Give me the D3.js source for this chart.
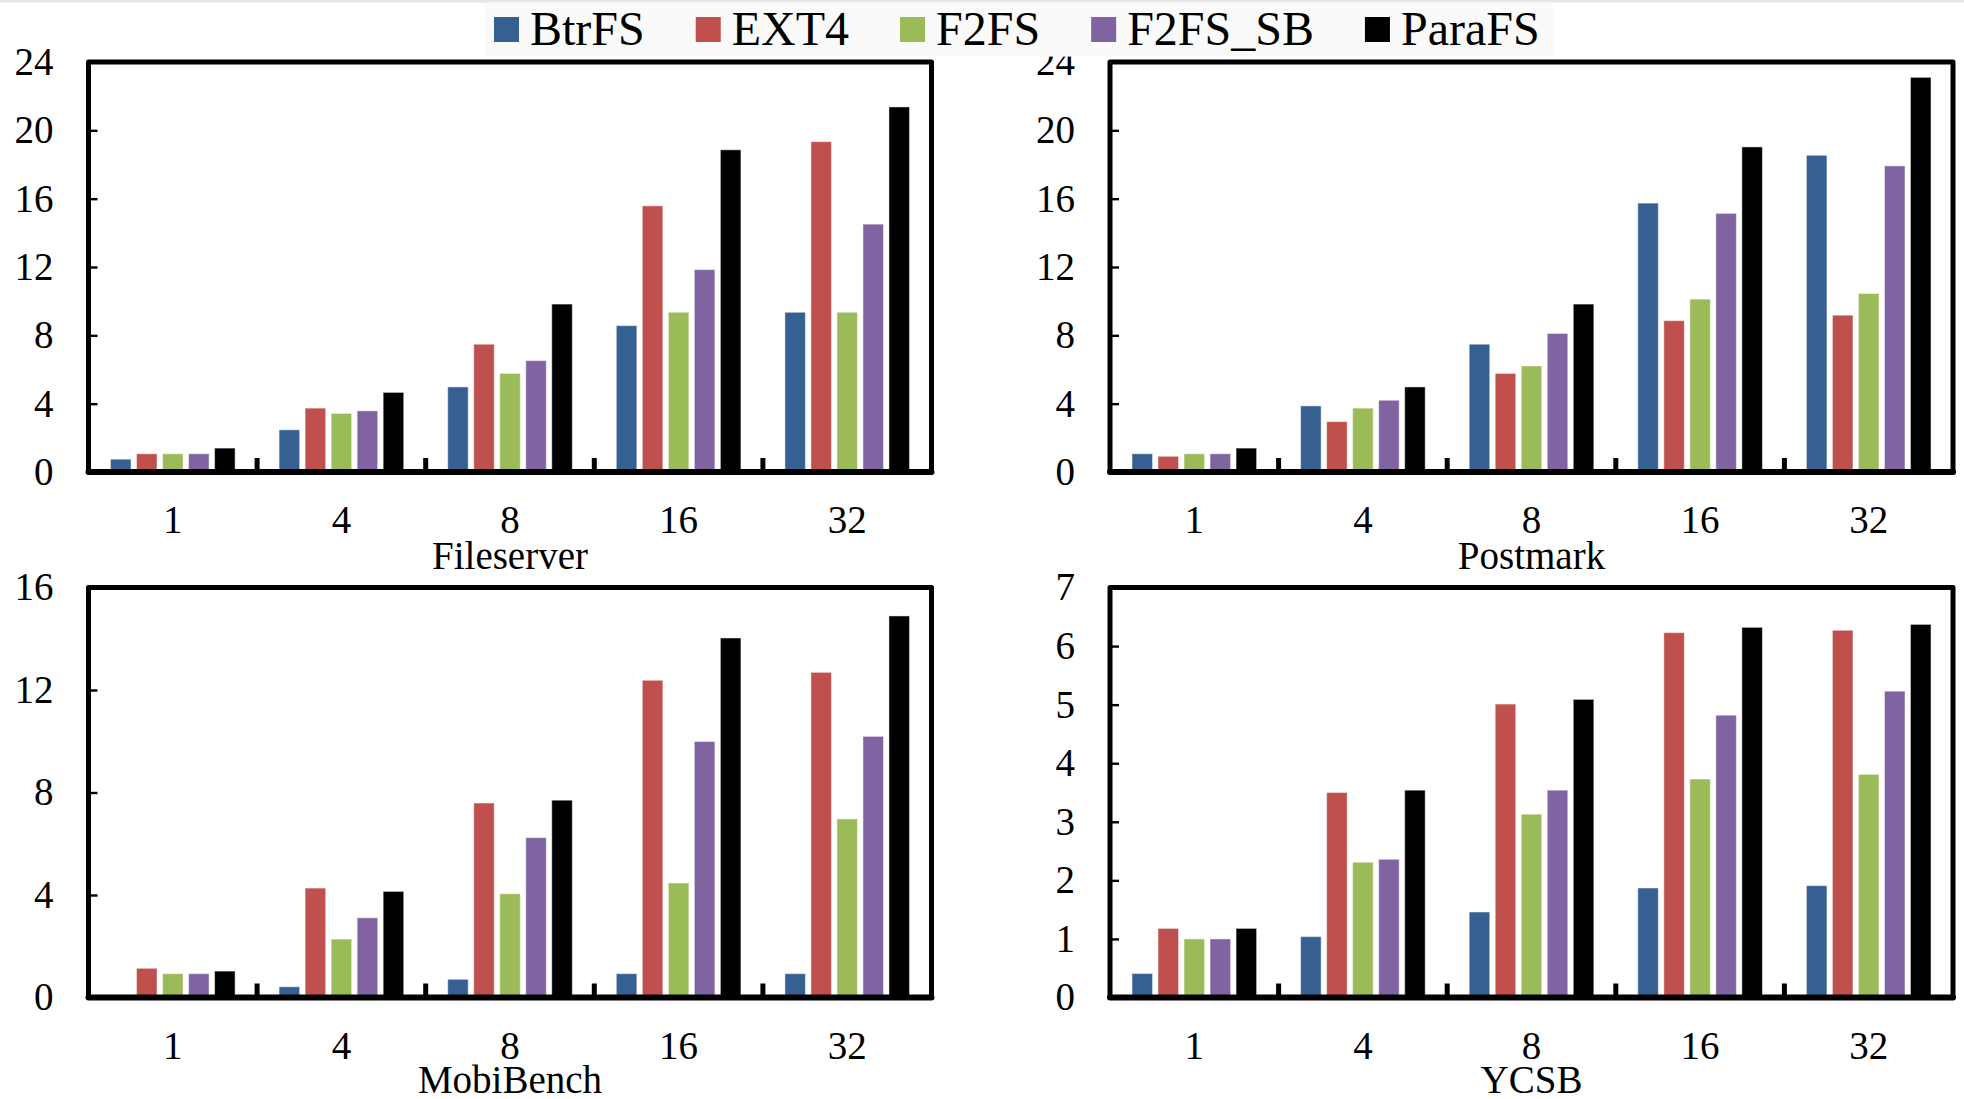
<!DOCTYPE html>
<html>
<head>
<meta charset="utf-8">
<script src="https://cdn.jsdelivr.net/npm/d3@7"></script>
<style>
  html, body { margin: 0; padding: 0; background: #ffffff; }
  svg { display: block; }
  text { font-family: "Liberation Serif", "Times New Roman", Times, serif; fill: #000; }
</style>
</head>
<body>
<svg id="chart" width="1964" height="1099"></svg>
<script>
// Thread counts on the x axis, file systems as series
const threads = ["1", "4", "8", "16", "32"];
const systems = ["BtrFS", "EXT4", "F2FS", "F2FS_SB", "ParaFS"];
const colors  = ["#376092", "#C0504D", "#9BBB59", "#8064A2", "#000000"];

// Normalized throughput, one row per file system (same order as `systems`)
const fileserver = [
  [0.75, 2.47, 4.98, 8.57, 9.35],
  [1.07, 3.74, 7.48, 15.58, 19.34],
  [1.07, 3.43, 5.77, 9.35, 9.35],
  [1.07, 3.58, 6.52, 11.85, 14.51],
  [1.40, 4.66, 9.83, 18.86, 21.37]
];
const postmark = [
  [1.07, 3.87, 7.48, 15.74, 18.54],
  [0.92, 2.95, 5.77, 8.86, 9.18],
  [1.07, 3.74, 6.21, 10.12, 10.45],
  [1.07, 4.20, 8.11, 15.14, 17.92],
  [1.40, 4.98, 9.83, 19.03, 23.10]
];
const mobibench = [
  [0, 0.42, 0.71, 0.93, 0.93],
  [1.14, 4.27, 7.59, 12.38, 12.69],
  [0.93, 2.28, 4.05, 4.47, 6.97],
  [0.93, 3.11, 6.24, 9.99, 10.19],
  [1.03, 4.14, 7.70, 14.03, 14.89]
];
const ycsb = [
  [0.41, 1.04, 1.46, 1.87, 1.91],
  [1.18, 3.50, 5.01, 6.23, 6.27],
  [1.00, 2.31, 3.13, 3.73, 3.81],
  [1.00, 2.36, 3.54, 4.82, 5.23],
  [1.18, 3.54, 5.09, 6.32, 6.37]
];

// Benchmarks, their y-axis maxima and tick steps
const benchmarks = ["Fileserver", "Postmark", "MobiBench", "YCSB"];
const benchData  = [fileserver, postmark, mobibench, ycsb];
const yMax       = [24, 24, 16, 7];
const yStep      = [4, 4, 4, 1];

const serif = '"Liberation Serif", "Times New Roman", Times, serif';
const svg = d3.select("#chart");

// thin grey strip along the top edge
svg.append("rect").attr("x", 0).attr("y", 0).attr("width", 1964).attr("height", 2.6)
  .attr("fill", "#e6e6e6");

// panel grid
const colLeft = [88.5, 1110];
const rowTop  = [62, 587.5];
const plotW = 843, plotH = 410;
const titleOffset = [96.5, 95];

benchmarks.forEach((name, i) => {
  const row = Math.floor(i / 2);
  const left = colLeft[i % 2];
  const top  = rowTop[row];
  const bottom = top + plotH;
  const data = benchData[i];

  const g = svg.append("g");

  const x0 = d3.scaleBand().domain(threads).range([left, left + plotW]).paddingInner(0).paddingOuter(0);
  const x1 = d3.scaleBand().domain(systems).range([0, x0.bandwidth()])
    .paddingInner(0.21).paddingOuter(0.845);
  const y = d3.scaleLinear().domain([0, yMax[i]]).range([bottom, top]);

  // bars
  systems.forEach((s, si) => {
    g.append("g").selectAll("rect")
      .data(threads.map((t, ti) => ({ t, v: data[si][ti] })))
      .join("rect")
      .attr("x", d => x0(d.t) + x1(s))
      .attr("width", x1.bandwidth())
      .attr("y", d => y(d.v))
      .attr("height", d => y(0) - y(d.v))
      .attr("fill", colors[si])
      .attr("stroke", "#ffffff")
      .attr("stroke-opacity", 0.45)
      .attr("stroke-width", 1.1);
  });

  // y axis: inward ticks, labels on the left
  const yTicks = d3.range(0, yMax[i] + 0.001, yStep[i]);
  const yAxis = d3.axisLeft(y).tickValues(yTicks).tickSize(-9).tickPadding(35).tickFormat(d3.format("d"));
  const ya = g.append("g").attr("transform", `translate(${left},0)`).call(yAxis)
    .attr("font-family", serif).attr("font-size", 39);
  ya.select(".domain").remove();
  ya.selectAll(".tick line").attr("stroke", "#000").attr("stroke-width", 2.4);
  ya.selectAll(".tick text").attr("fill", "#000").style("font-family", serif);

  // x axis: category labels centred on each group
  const xAxis = d3.axisBottom(x0).tickSize(0).tickPadding(0);
  const xa = g.append("g").attr("transform", `translate(0,${bottom})`).call(xAxis)
    .attr("font-family", serif).attr("font-size", 39);
  xa.select(".domain").remove();
  xa.selectAll(".tick text").attr("fill", "#000")
    .attr("dy", null).attr("y", 61)
    .style("font-family", serif);

  // group separators rising from the baseline
  g.append("g").selectAll("line")
    .data(threads.slice(1))
    .join("line")
    .attr("x1", d => x0(d)).attr("x2", d => x0(d))
    .attr("y1", y(0)).attr("y2", y(0) - 14)
    .attr("stroke", "#000").attr("stroke-width", 5);

  // frame
  g.append("rect")
    .attr("x", left).attr("y", top).attr("width", plotW).attr("height", plotH)
    .attr("fill", "none").attr("stroke", "#000").attr("stroke-width", 5)
    .attr("stroke-linejoin", "round");
  g.append("line")
    .attr("x1", left).attr("x2", left + plotW).attr("y1", bottom).attr("y2", bottom)
    .attr("stroke", "#000").attr("stroke-width", 6).attr("stroke-linecap", "round");

  // benchmark name below the axis
  g.append("text")
    .attr("x", left + plotW / 2).attr("y", bottom + titleOffset[row])
    .attr("text-anchor", "middle").attr("font-size", 39)
    .text(name);
});

// legend
const legend = svg.append("g");
legend.append("rect").attr("x", 485).attr("y", 2.6).attr("width", 1068).attr("height", 54)
  .attr("fill", "#fafafa");
let lx = 494;
systems.forEach((s, si) => {
  legend.append("rect").attr("x", lx).attr("y", 17).attr("width", 25).attr("height", 25)
    .attr("fill", colors[si]);
  const t = legend.append("text").attr("x", lx + 36).attr("y", 45)
    .attr("font-size", 48).text(s);
  lx += 36 + t.node().getComputedTextLength() + 51;
});
</script>
</body>
</html>
